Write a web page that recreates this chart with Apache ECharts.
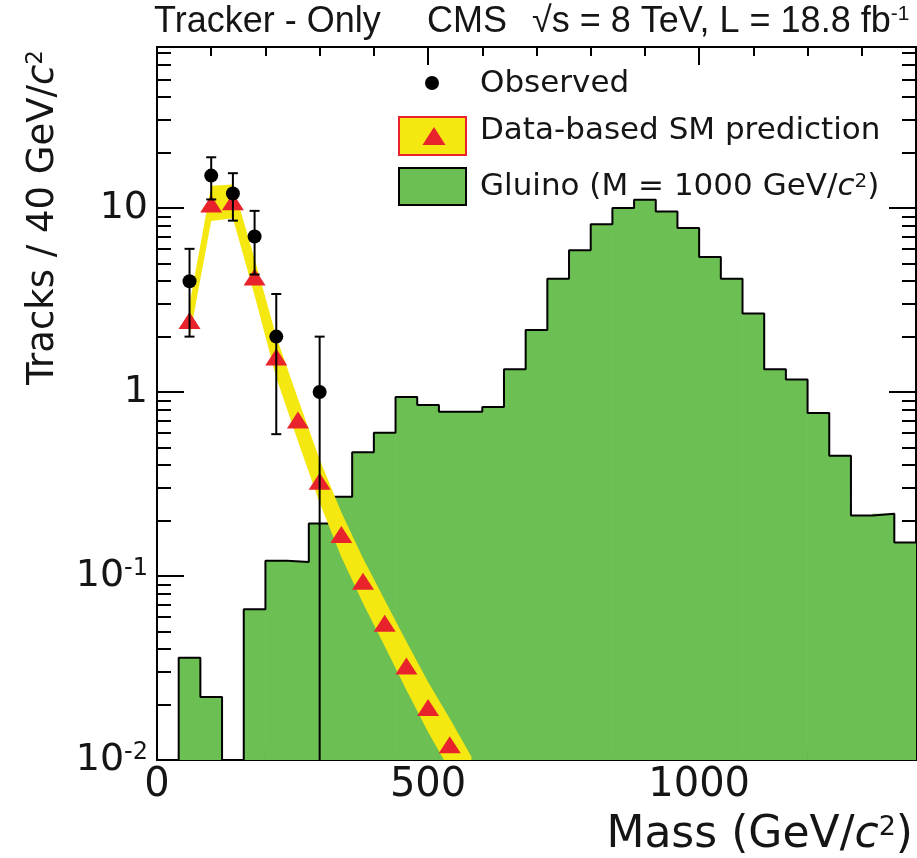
<!DOCTYPE html>
<html>
<head>
<meta charset="utf-8">
<script src="https://cdn.jsdelivr.net/npm/echarts@6/dist/echarts.min.js"></script>
<style>html,body{margin:0;padding:0;background:#fff}#chart{width:917px;height:858px}</style>
</head>
<body>
<div id="chart"></div>
<script>
// ---------------- data ----------------
const BIN_WIDTH = 40;
const gluinoBinLow = [40,80,120,160,200,240,280,320,360,400,440,480,520,560,600,640,680,720,760,800,840,880,920,960,1000,1040,1080,1120,1160,1200,1240,1280,1320,1360];
const gluinoValues = [0.036,0.022,0,0.066,0.121,0.119,0.193,0.27,0.47,0.60,0.94,0.85,0.78,0.78,0.83,1.33,2.17,4.13,5.89,8.15,10.0,11.1,9.57,7.78,5.41,4.13,2.67,1.33,1.17,0.77,0.45,0.213,0.218,0.152];

const obsMass = [60,100,140,180,220,300];
const obsValues = [4,15,12,7,2,1];
const obsErr = [2,3.87,3.46,2.65,1.41,1];

const smMass = [60,100,140,180,220,260,300,340,380,420,460,500,540];
const smValues = [2.45,10.5,10.8,4.22,1.55,0.705,0.327,0.168,0.0937,0.0553,0.0324,0.0193,0.0121];

const bandMass = [60,100,140,180,220,260,300,340,380,420,460,500,540,580];
const bandLow  = [1.98,8.5,8.8,3.35,1.2,0.54,0.25,0.127,0.071,0.0415,0.024,0.0142,0.0088,0.0046];
const bandHigh = [3.0,13.2,13.4,5.3,2.0,0.92,0.43,0.222,0.125,0.074,0.044,0.0265,0.0168,0.0104];

const xMajorTicks = [0,500,1000];
const xMinorTicks = [100,200,300,400,600,700,800,900,1100,1200,1300];
const yMajorTicks = [0.01,0.1,1,10];
const yMinorTicks = [0.02,0.03,0.04,0.05,0.06,0.07,0.08,0.09,0.2,0.3,0.4,0.5,0.6,0.7,0.8,0.9,2,3,4,5,6,7,8,9,20,30,40,50,60,70];

// ---------------- style ----------------
const X_MIN = 0, X_MAX = 1400, Y_MIN = 0.01, Y_MAX = 75;
const GREEN = '#6cbf52', YELLOW = '#f4e810', RED = '#e8232b', INK = '#151515';
const SANS = '"DejaVu Sans", "Liberation Sans", sans-serif';
const TITLE_FONT = '"Liberation Sans", Arial, sans-serif';
const FLOOR = Y_MIN * 0.01;

const chart = echarts.init(document.getElementById('chart'), null, {renderer: 'canvas'});

function xAxisDef(pos, major, withLabel) {
  const o = {
    type: 'value', min: X_MIN, max: X_MAX, position: pos, gridIndex: 0,
    splitLine: {show: false},
    axisLine: {show: major, onZero: false, lineStyle: {color: '#000', width: 2}},
    axisTick: {show: true, inside: true, length: major ? 18 : 9,
      lineStyle: {color: '#000', width: 2},
      customValues: major ? xMajorTicks : xMinorTicks},
    axisLabel: {show: false}
  };
  if (withLabel) {
    o.axisLabel = {show: true, customValues: xMajorTicks, formatter: v => String(Math.round(v)),
      fontSize: 40, fontFamily: SANS, color: INK, margin: 6};
    o.name = 'Mass (GeV/{i|c}{s|2})';
    o.nameLocation = 'end';
    o.nameGap = -3;
    o.nameMoveOverlap = false;
    o.nameTextStyle = {fontSize: 44, fontFamily: SANS, color: INK, align: 'right', verticalAlign: 'top',
      padding: [54, 0, 0, 0],
      rich: {
        i: {fontSize: 44, fontFamily: SANS, fontStyle: 'italic', color: INK},
        s: {fontSize: 27, fontFamily: SANS, color: INK, verticalAlign: 'top'}
      }};
  }
  return o;
}

function yAxisDef(pos, major, withLabel) {
  const o = {
    type: 'log', logBase: 10, min: Y_MIN, max: Y_MAX, position: pos, gridIndex: 0,
    splitLine: {show: false},
    axisLine: {show: major, onZero: false, lineStyle: {color: '#000', width: 2}},
    axisTick: {show: true, inside: true, length: major ? 27 : 14,
      lineStyle: {color: '#000', width: 2},
      customValues: major ? yMajorTicks : yMinorTicks},
    axisLabel: {show: false}
  };
  if (withLabel) {
    o.axisLabel = {show: true, customValues: yMajorTicks, margin: 9,
      formatter: v => {
        const e = Math.round(Math.log10(v));
        if (e === 0) return '{b|1}';
        if (e === 1) return '{b|10}';
        return '{b|10}{s|' + e + '}';
      },
      rich: {
        b: {fontSize: 38, fontFamily: SANS, color: INK},
        s: {fontSize: 24, fontFamily: SANS, color: INK, verticalAlign: 'top'}
      }};
    o.name = 'Tracks / 40 GeV/{i|c}{s|2}';
    o.nameLocation = 'end';
    o.nameGap = -3;
    o.nameRotate = 90;
    o.nameMoveOverlap = false;
    o.nameTextStyle = {fontSize: 37, fontFamily: SANS, color: INK, align: 'right', verticalAlign: 'bottom',
      padding: [0, 0, 95, 0],
      rich: {
        i: {fontSize: 37, fontFamily: SANS, fontStyle: 'italic', color: INK},
        s: {fontSize: 23, fontFamily: SANS, color: INK, verticalAlign: 'top'}
      }};
  }
  return o;
}

// histogram outline (step line)
const outline = [[gluinoBinLow[0], FLOOR]];
gluinoBinLow.forEach((x, i) => outline.push([x, gluinoValues[i] > 0 ? gluinoValues[i] : FLOOR]));
outline.push([gluinoBinLow[gluinoBinLow.length - 1] + BIN_WIDTH, gluinoValues[gluinoValues.length - 1]]);

const titleStyle = {fontFamily: TITLE_FONT, fontSize: 36, fontWeight: 'normal', color: INK};

const option = {
  animation: false,
  backgroundColor: '#fff',
  title: [
    {text: 'Tracker - Only', left: 154, top: 4, padding: 0, textStyle: titleStyle},
    {text: 'CMS', left: 427, top: 4, padding: 0, textStyle: titleStyle},
    {text: '√s = 8 TeV, L = 18.8 fb{s|-1}', left: 532, top: 4, padding: 0,
      textStyle: Object.assign({}, titleStyle, {
        rich: {s: {fontFamily: TITLE_FONT, fontSize: 21, color: INK, verticalAlign: 'top'}}})}
  ],
  grid: {left: 157, right: 1, top: 47, bottom: 97, containLabel: false, show: false},
  xAxis: [xAxisDef('bottom', true, true), xAxisDef('bottom', false, false),
          xAxisDef('top', true, false), xAxisDef('top', false, false)],
  yAxis: [yAxisDef('left', true, true), yAxisDef('left', false, false),
          yAxisDef('right', true, false), yAxisDef('right', false, false)],
  series: [
    {
      type: 'custom', name: 'Gluino (M = 1000 GeV/c2)', xAxisIndex: 0, yAxisIndex: 0, clip: true, z: 1, silent: true,
      data: gluinoBinLow.map((x, i) => [x, x + BIN_WIDTH, gluinoValues[i]]),
      encode: {x: [0, 1], y: 2},
      renderItem: (params, api) => {
        const v = api.value(2);
        if (!(v > 0)) return null;
        const p0 = api.coord([api.value(0), v]);
        const p1 = api.coord([api.value(1), Y_MIN]);
        return {type: 'rect', shape: {x: p0[0] - 0.3, y: p0[1], width: p1[0] - p0[0] + 0.6, height: p1[1] - p0[1]},
          style: {fill: GREEN}};
      }
    },
    {
      type: 'line', name: 'Gluino outline', xAxisIndex: 0, yAxisIndex: 0, step: 'end', clip: true, z: 2, silent: true,
      data: outline, showSymbol: false, symbol: 'none',
      lineStyle: {color: '#000', width: 2}
    },
    {
      type: 'custom', name: 'SM band', xAxisIndex: 0, yAxisIndex: 0, clip: true, z: 3, silent: true,
      data: bandMass.map((m, i) => [m, bandLow[i], bandHigh[i]]),
      encode: {x: 0, y: [1, 2]},
      renderItem: (params, api) => {
        if (params.dataIndex !== 0) return null;
        const pts = [];
        for (let j = 0; j < bandMass.length; j++) pts.push(api.coord([bandMass[j], bandHigh[j]]));
        for (let j = bandMass.length - 1; j >= 0; j--) pts.push(api.coord([bandMass[j], bandLow[j]]));
        return {type: 'polygon', shape: {points: pts}, style: {fill: YELLOW}};
      }
    },
    {
      type: 'scatter', name: 'Data-based SM prediction', xAxisIndex: 0, yAxisIndex: 0, z: 4, silent: true,
      data: smMass.map((m, i) => [m, smValues[i]]),
      symbol: 'triangle', symbolSize: [22, 17],
      itemStyle: {color: RED, opacity: 1}
    },
    {
      type: 'custom', name: 'Observed errors', xAxisIndex: 0, yAxisIndex: 0, clip: true, z: 5, silent: true,
      data: obsMass.map((m, i) => [m, obsValues[i] - obsErr[i], obsValues[i] + obsErr[i]]),
      encode: {x: 0, y: [1, 2]},
      renderItem: (params, api) => {
        const m = api.value(0), lo = api.value(1), hi = api.value(2);
        const pHi = api.coord([m, hi]);
        const hasLo = lo > 0;
        const pLo = api.coord([m, hasLo ? lo : Y_MIN]);
        const st = {stroke: '#000', lineWidth: 2};
        const children = [
          {type: 'line', shape: {x1: pHi[0], y1: pHi[1], x2: pLo[0], y2: pLo[1]}, style: st},
          {type: 'line', shape: {x1: pHi[0] - 5, y1: pHi[1], x2: pHi[0] + 5, y2: pHi[1]}, style: st}
        ];
        if (hasLo) children.push({type: 'line', shape: {x1: pLo[0] - 5, y1: pLo[1], x2: pLo[0] + 5, y2: pLo[1]}, style: st});
        return {type: 'group', children};
      }
    },
    {
      type: 'scatter', name: 'Observed', xAxisIndex: 0, yAxisIndex: 0, z: 6, silent: true,
      data: obsMass.map((m, i) => [m, obsValues[i]]),
      symbol: 'circle', symbolSize: 14,
      itemStyle: {color: '#000', opacity: 1}
    }
  ],
  graphic: [
    {type: 'circle', z: 100, shape: {cx: 432, cy: 83, r: 7}, style: {fill: '#000'}},
    {type: 'text', z: 100, x: 480, y: 84,
      style: {text: 'Observed', fontSize: 31, fontFamily: SANS, fill: INK, align: 'left', verticalAlign: 'middle', textAlign: 'left', textVerticalAlign: 'middle'}},
    {type: 'rect', z: 100, shape: {x: 399, y: 117, width: 67, height: 38}, style: {fill: YELLOW, stroke: RED, lineWidth: 2}},
    {type: 'polygon', z: 101, shape: {points: [[434, 127], [445.5, 145], [422.5, 145]]}, style: {fill: RED}},
    {type: 'text', z: 100, x: 480, y: 131,
      style: {text: 'Data-based SM prediction', fontSize: 31, fontFamily: SANS, fill: INK, align: 'left', verticalAlign: 'middle', textAlign: 'left', textVerticalAlign: 'middle'}},
    {type: 'rect', z: 100, shape: {x: 399, y: 168, width: 67, height: 37}, style: {fill: GREEN, stroke: '#000', lineWidth: 2}},
    {type: 'text', z: 100, x: 480, y: 187,
      style: {text: 'Gluino (M = 1000 GeV/{i|c}{s|2})', fontSize: 31, fontFamily: SANS, fill: INK,
        align: 'left', verticalAlign: 'middle', textAlign: 'left', textVerticalAlign: 'middle',
        rich: {
          i: {fontSize: 31, fontFamily: SANS, fontStyle: 'italic', fill: INK, color: INK},
          s: {fontSize: 20, fontFamily: SANS, fill: INK, color: INK, verticalAlign: 'top'}
        }}}
  ]
};
chart.setOption(option);
</script>
</body>
</html>
